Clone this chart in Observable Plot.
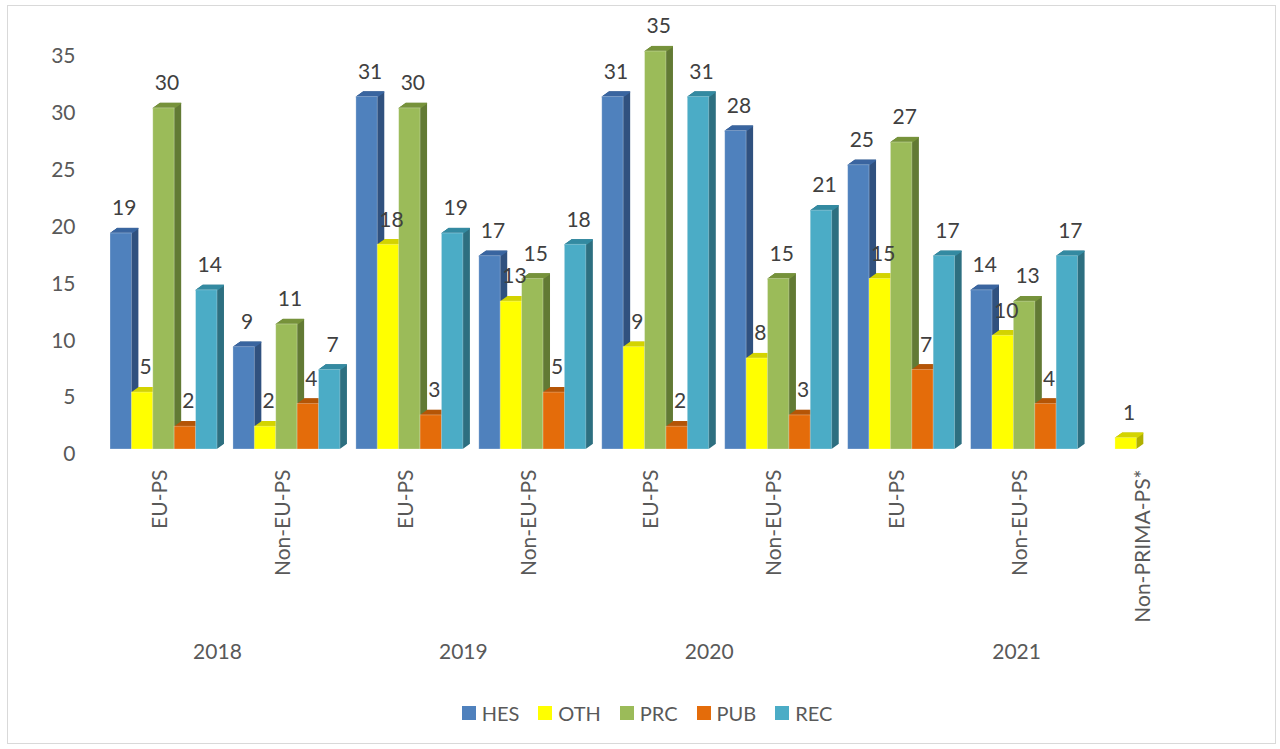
<!DOCTYPE html>
<html>
<head>
<meta charset="utf-8">
<script src="https://cdn.jsdelivr.net/npm/d3@7"></script>
<script src="https://cdn.jsdelivr.net/npm/@observablehq/plot@0.6"></script>
<style>
  html, body { margin: 0; padding: 0; background: #ffffff; }
  body { width: 1280px; height: 749px; position: relative; overflow: hidden; font-family: Lato, "Open Sans", sans-serif; }
  #frame { position: absolute; left: 7px; top: 5px; width: 1269px; height: 739px; border: 1px solid #d9d9d9; box-sizing: border-box; }
  #chart { position: absolute; left: 0; top: 0; }
  #legend { position: absolute; left: 7px; width: 1280px; top: 701px; display: flex; justify-content: center; align-items: center; gap: 19px; color: #595959; font-size: 20px; }
  #legend .item { display: flex; align-items: center; gap: 6px; }
  #legend .sw { width: 14px; height: 14px; display: inline-block; }
</style>
</head>
<body>
<div id="frame"></div>
<div id="chart"></div>
<div id="legend"></div>
<script>
// ---- data ----
const categories = ["EU-PS", "Non-EU-PS", "EU-PS", "Non-EU-PS", "EU-PS", "Non-EU-PS", "EU-PS", "Non-EU-PS", "Non-PRIMA-PS*"];
const series = ["HES", "OTH", "PRC", "PUB", "REC"];
const HES = [19, 9, 31, 17, 31, 28, 25, 14, null];
const OTH = [5, 2, 18, 13, 9, 8, 15, 10, 1];
const PRC = [30, 11, 30, 15, 35, 15, 27, 13, null];
const PUB = [2, 4, 3, 5, 2, 3, 7, 4, null];
const REC = [14, 7, 19, 18, 31, 21, 17, 17, null];
const years = ["2018", "2019", "2020", "2021"];
const yearStart = [0, 2, 4, 6];
const yearSpan = [2, 2, 2, 3];
const yTicks = [0, 5, 10, 15, 20, 25, 30, 35];

// ---- styles ----
const frontColor = {HES: "#4f81bd", OTH: "#ffff00", PRC: "#9bbb59", PUB: "#e46c0a", REC: "#4bacc6"};
const topColor   = {HES: "#3b66a0", OTH: "#d4d400", PRC: "#77933c", PUB: "#b55608", REC: "#358ba2"};
const sideColor  = {HES: "#30517f", OTH: "#b0b000", PRC: "#627a34", PUB: "#9c4a06", REC: "#2d6f80"};

const values = {HES, OTH, PRC, PUB, REC};
const data = [];
categories.forEach((c, i) => series.forEach(s => {
  const v = values[s][i];
  if (v != null) data.push({cat: i, series: s, value: v});
}));

const W = 1280, H = 690;
const mL = 110, mR = 79.5, mT = 51, mB = 241;
const padInner = 0.13;
const step = (W - mL - mR) / (categories.length - padInner);
const depthX = 7, depthY = 5, nSteps = 14;
const font = 21;

const marks = [];
// side (extrusion) faces
for (let j = 1; j <= nSteps; j++) {
  const k = j * depthX / nSteps;
  marks.push(Plot.barY(data, {fx: "cat", x: "series", y1: 0, y2: "value", fill: d => sideColor[d.series], dx: k, dy: -k * depthY / depthX}));
}
// top faces
for (let j = 0; j <= nSteps; j++) {
  const k = j * depthX / nSteps;
  marks.push(Plot.tickY(data, {fx: "cat", x: "series", y: "value", stroke: d => topColor[d.series], strokeWidth: 1.2, dx: k, dy: -k * depthY / depthX}));
}
// front faces
marks.push(Plot.barY(data, {fx: "cat", x: "series", y1: 0, y2: "value", fill: d => frontColor[d.series], stroke: "#ffffff", strokeOpacity: 0.35, strokeWidth: 0.8}));
// value labels
marks.push(Plot.text(data, {fx: "cat", x: "series", y: "value", text: d => String(d.value), dy: -25, dx: 3, fontSize: font, fill: "#404040"}));
// axes
marks.push(Plot.axisY({ticks: yTicks, tickSize: 0, tickPadding: 35, fontSize: font, fill: "#595959", dy: 5, label: null}));
marks.push(Plot.axisFx({anchor: "bottom", tickRotate: -90, tickSize: 0, tickPadding: 20, tickFormat: i => categories[i], fontSize: font, fill: "#595959", dx: -4, label: null}));
// year labels
years.forEach((y, j) => {
  marks.push(Plot.text([{fx: yearStart[j], t: y}], {fx: "fx", text: "t", frameAnchor: "bottom", dy: 209, dx: (yearSpan[j] - 1) * step / 2 - 8, fontSize: font, fill: "#595959"}));
});

const chart = Plot.plot({
  width: W, height: H,
  marginLeft: mL, marginRight: mR, marginTop: mT, marginBottom: mB,
  style: {fontFamily: "Lato, 'Open Sans', sans-serif", background: "transparent", overflow: "visible"},
  fx: {domain: d3.range(categories.length), paddingInner: padInner, paddingOuter: 0, round: false, label: null},
  x: {domain: series, padding: 0, round: false, axis: null},
  y: {domain: [0, 35], label: null},
  color: {type: "identity"},
  marks
});
document.getElementById("chart").appendChild(chart);

// legend
const legend = document.getElementById("legend");
series.forEach(s => {
  const item = document.createElement("div");
  item.className = "item";
  const sw = document.createElement("span");
  sw.className = "sw";
  sw.style.background = frontColor[s];
  const t = document.createElement("span");
  t.textContent = s;
  item.appendChild(sw); item.appendChild(t);
  legend.appendChild(item);
});
</script>
</body>
</html>
